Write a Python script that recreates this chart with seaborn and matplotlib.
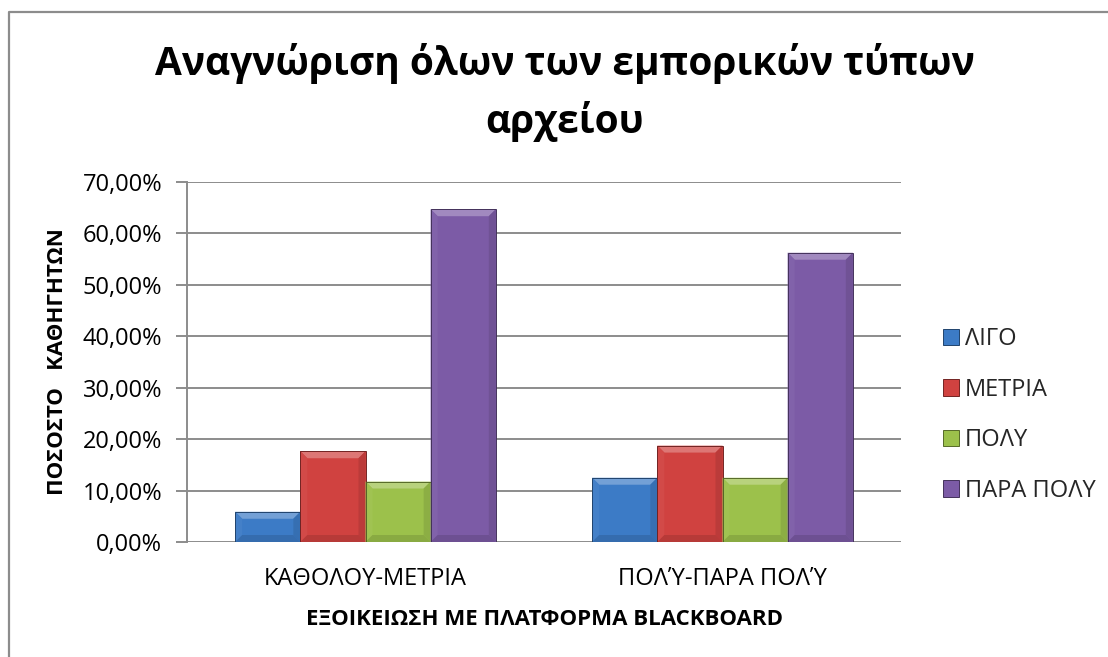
import matplotlib
matplotlib.use("Agg")
import matplotlib.pyplot as plt
import matplotlib.colors as mcolors
from matplotlib.ticker import FuncFormatter, MultipleLocator
from matplotlib.patches import Polygon
from matplotlib.lines import Line2D
import seaborn as sns
import pandas as pd
import numpy as np

# Familiarity groups on the x axis
groups = ["ΚΑΘΟΛΟΥ-ΜΕΤΡΙΑ", "ΠΟΛΎ-ΠΑΡΑ ΠΟΛΎ"]
# Answer levels (legend)
levels = ["ΛΙΓΟ", "ΜΕΤΡΙΑ", "ΠΟΛΥ", "ΠΑΡΑ ΠΟΛΥ"]
# Percentage of teachers per level, one list per group
pct_group1 = [5.88, 17.65, 11.76, 64.71]
pct_group2 = [12.50, 18.75, 12.50, 56.25]

colors = ["#3C7BC6", "#D04240", "#9CC14B", "#7C5BA6"]

rows = []
for g, vals in zip(groups, [pct_group1, pct_group2]):
    for lvl, v in zip(levels, vals):
        rows.append({"group": g, "level": lvl, "pct": v})
df = pd.DataFrame(rows)

sns.set_theme(style="white")
plt.rcParams["font.family"] = ["Open Sans", "Noto Sans", "DejaVu Sans"]

W, H = 1108, 657
fig = plt.figure(figsize=(W / 100, H / 100), dpi=100)
ax_left, ax_right, ax_top, ax_bottom = 187, 901, 182, 542
ax = fig.add_axes([ax_left / W, 1 - ax_bottom / H,
                   (ax_right - ax_left) / W, (ax_bottom - ax_top) / H])

sns.barplot(data=df, x="group", y="pct", hue="level", order=groups,
            hue_order=levels, palette=colors, width=0.73, gap=0,
            saturation=1, ax=ax, zorder=3, legend=False)

ax.set_xlim(-0.5, 1.5)
ax.set_ylim(0, 70)


def shade(c, f):
    """Blend a colour toward white (f > 0) or black (f < 0)."""
    rgb = np.array(mcolors.to_rgb(c))
    if f >= 0:
        return tuple(rgb + (1 - rgb) * f)
    return tuple(rgb * (1 + f))


# bevelled bar faces
bev_px = 7
bx = bev_px * 2 / (ax_right - ax_left)
by = bev_px * 70 / (ax_bottom - ax_top)
for container, c in zip(ax.containers, colors):
    for p in container:
        x0, w, h = p.get_x(), p.get_width(), p.get_height()
        p.set_edgecolor("none")
        faces = [
            ([(x0, h), (x0 + w, h), (x0 + w - bx, h - by), (x0 + bx, h - by)], shade(c, 0.28)),
            ([(x0, 0), (x0, h), (x0 + bx, h - by), (x0 + bx, by)], shade(c, 0.04)),
            ([(x0 + w, 0), (x0 + w, h), (x0 + w - bx, h - by), (x0 + w - bx, by)], shade(c, -0.10)),
            ([(x0, 0), (x0 + w, 0), (x0 + w - bx, by), (x0 + bx, by)], shade(c, -0.12)),
        ]
        for pts, fc in faces:
            ax.add_patch(Polygon(pts, closed=True, facecolor=fc, edgecolor="none", zorder=3.5))
        ax.add_patch(Polygon([(x0, 0), (x0 + w, 0), (x0 + w, h), (x0, h)], closed=True,
                             facecolor="none", edgecolor=shade(c, -0.45),
                             linewidth=0.7, zorder=3.6))

ax.yaxis.set_major_locator(MultipleLocator(10))
ax.yaxis.set_major_formatter(FuncFormatter(lambda v, _: f"{v:.2f}%".replace(".", ",")))
ax.grid(axis="y", color="#8C8C8C", linewidth=1.4, zorder=0)
for s in ["top", "right", "bottom"]:
    ax.spines[s].set_visible(False)
ax.spines["left"].set_color("#8C8C8C")
ax.spines["left"].set_linewidth(1.4)
ax.tick_params(axis="y", which="major", left=True, length=8, width=1.4,
               color="#8C8C8C", labelsize=17, pad=10, labelcolor="#000000")
ax.tick_params(axis="x", bottom=False, labelsize=17, pad=12, labelcolor="#000000")

ax.set_xlabel("ΕΞΟΙΚΕΙΩΣΗ ΜΕ ΠΛΑΤΦΟΡΜΑ BLACKBOARD", fontsize=16,
              fontweight="bold", labelpad=13, color="#000000")
ax.set_ylabel("ΠΟΣΟΣΤΟ   ΚΑΘΗΓΗΤΩΝ", fontsize=16, fontweight="bold",
              labelpad=10, color="#000000")

handles = [plt.Rectangle((0, 0), 1, 1, facecolor=c, edgecolor=shade(c, -0.45), linewidth=0.7)
           for c in colors]
fig.legend(handles, levels, loc="center left",
           bbox_to_anchor=(943 / W, 1 - 415 / H), frameon=False,
           fontsize=17, handlelength=0.68, handleheight=0.68,
           handletextpad=0.25, labelspacing=1.12, borderpad=0, borderaxespad=0)

title_lines = ["Αναγνώριση όλων των εμπορικών τύπων", "αρχείου"]
for line, base in zip(title_lines, [75, 133]):
    fig.text(565 / W, 1 - base / H, line, ha="center", va="baseline",
             fontsize=28, fontweight="bold", color="#000000")

# chart area border (left and top edges)
fig.add_artist(Line2D([9 / W, 9 / W, 1.0], [0.0, 1 - 12 / H, 1 - 12 / H],
                      transform=fig.transFigure, color="#8C8C8C", linewidth=1.6))

fig.savefig("out.png", dpi=100, facecolor="white")
